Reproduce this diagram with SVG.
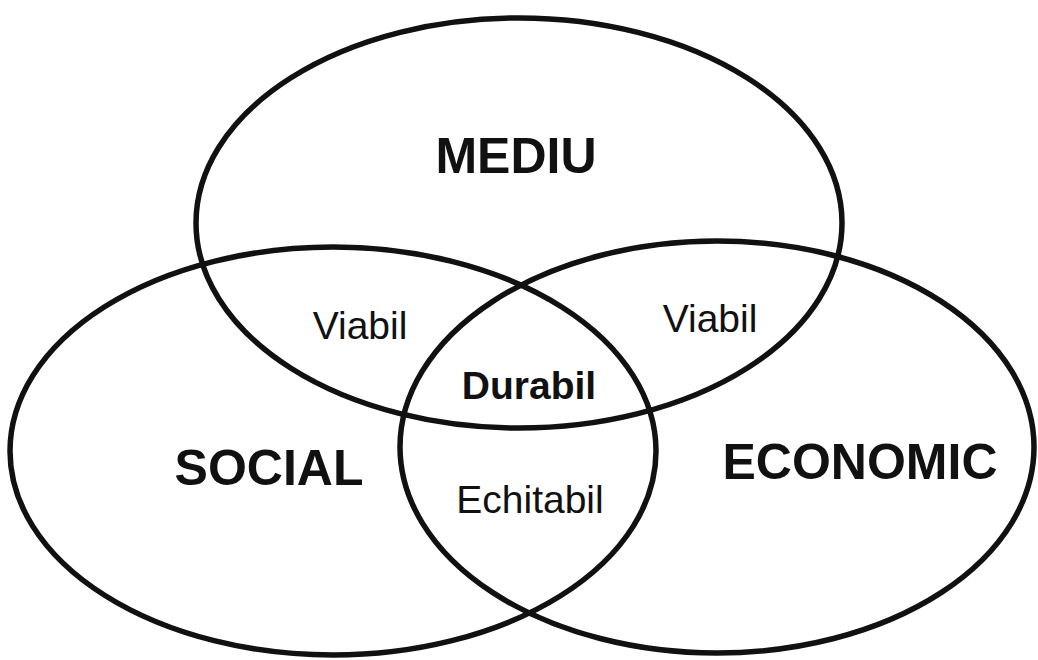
<svg xmlns="http://www.w3.org/2000/svg" width="1038" height="660" viewBox="0 0 1038 660">
<style>
.c{fill:none;stroke:#111;stroke-width:5.5}
.b{font-family:"Liberation Sans",Arial,sans-serif;font-weight:bold;fill:#111;text-anchor:middle}
.r{font-family:"Liberation Sans",Arial,sans-serif;fill:#111;text-anchor:middle}
</style>
<rect width="1038" height="660" fill="#fff"/>
<g id="mediu"><ellipse class="c" cx="519" cy="223" rx="323" ry="205"/><text class="b" x="516" y="173" font-size="50">MEDIU</text></g>
<g id="social"><ellipse class="c" cx="333" cy="451" rx="323" ry="204"/><text class="b" x="269" y="485" font-size="50">SOCIAL</text></g>
<g id="economic"><ellipse class="c" cx="717" cy="447" rx="317" ry="206"/><text class="b" x="860" y="479" font-size="50">ECONOMIC</text></g>
<g id="viabil1"><text class="r" x="360" y="339" font-size="39">Viabil</text></g>
<g id="viabil2"><text class="r" x="710" y="332" font-size="39">Viabil</text></g>
<g id="durabil"><text class="b" x="529" y="399" font-size="39">Durabil</text></g>
<g id="echitabil"><text class="r" x="530" y="513" font-size="39">Echitabil</text></g>
<g id="connectors"></g>
</svg>
